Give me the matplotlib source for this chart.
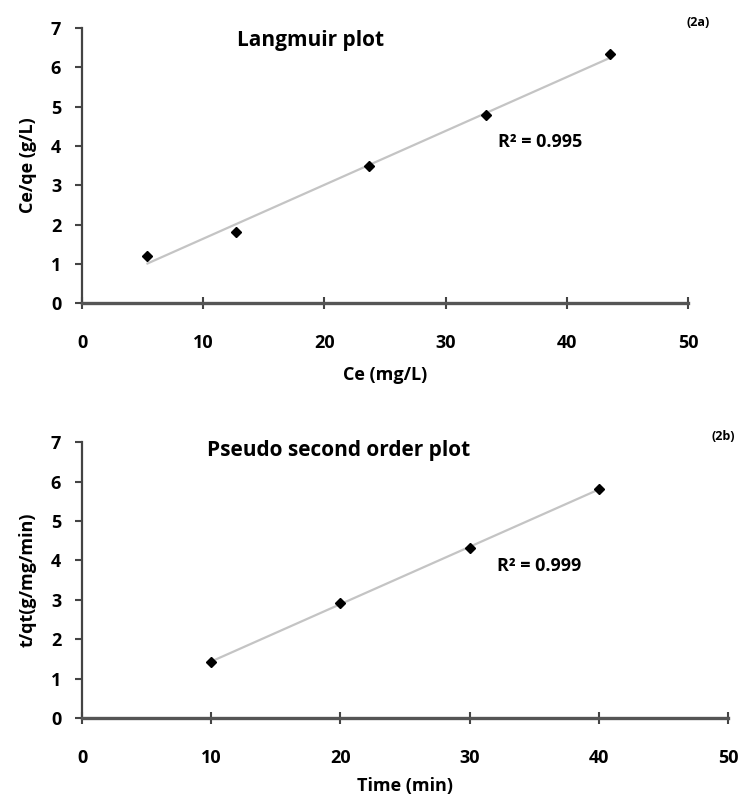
import numpy as np
import matplotlib
matplotlib.use("Agg")
import matplotlib.pyplot as plt

plt.rcParams['font.family'] = ['Open Sans', 'DejaVu Sans']
plt.rcParams['font.weight'] = 'bold'

# Langmuir data (2a)
ce = [5.4, 12.7, 23.7, 33.3, 43.6]
ce_qe = [1.19, 1.82, 3.49, 4.79, 6.33]

# pseudo second order data (2b)
time_min = [10, 20, 30, 40]
t_qt = [1.42, 2.93, 4.31, 5.81]

xticks = [0, 10, 20, 30, 40, 50]
yticks = [0, 1, 2, 3, 4, 5, 6, 7]

fig = plt.figure(figsize=(7.43, 8.02), dpi=100)
ax1 = fig.add_axes([0.1104, 0.622, 0.8156, 0.343])
ax2 = fig.add_axes([0.1104, 0.1047, 0.8695, 0.344])


def style(ax, xs, ys, xlabel, ylabel, title, titlepos, tag, tagx, r2, r2pos, xly):
    # trendline from linear fit
    k, b = np.polyfit(xs, ys, 1)
    xx = np.array([min(xs), max(xs)])
    ax.plot(xx, k * xx + b, color='#c4c4c4', lw=1.6, zorder=1)
    ax.plot(xs, ys, 'D', color='black', ms=5, zorder=2)
    ax.set_xlim(0, 50)
    ax.set_ylim(0, 7)
    ax.set_xticks(xticks)
    ax.set_yticks(yticks)
    for s in ['top', 'right']:
        ax.spines[s].set_visible(False)
    ax.spines['left'].set_color('#444444')
    ax.spines['left'].set_linewidth(1.6)
    ax.spines['bottom'].set_color('#555555')
    ax.spines['bottom'].set_linewidth(2.4)
    ax.tick_params(axis='y', direction='out', length=5, width=1.5,
                   color='#444444', labelsize=13, pad=10)
    ax.tick_params(axis='x', direction='inout', length=8, width=1.5,
                   color='#444444', labelsize=13, pad=18)
    ax.set_xlabel(xlabel, fontsize=13, fontweight='bold', va='center')
    ax.xaxis.set_label_coords(0.5, xly)
    ax.set_ylabel(ylabel, fontsize=13, fontweight='bold', labelpad=10)
    ax.text(titlepos[0], titlepos[1], title, transform=ax.transAxes,
            fontsize=15, fontweight='bold', ha='left', va='center')
    ax.text(r2pos[0], r2pos[1], r2, fontsize=13, fontweight='bold',
            ha='left', va='center')
    ax.text(tagx, 1.02, tag, transform=ax.transAxes, fontsize=9,
            fontweight='bold', ha='left', va='center')


style(ax1, ce, ce_qe, 'Ce (mg/L)', 'Ce/qe (g/L)', 'Langmuir plot', (0.256, 0.956),
      '(2a)', 0.997, 'R² = 0.995', (34.3, 4.1), -0.262)
style(ax2, time_min, t_qt, 'Time (min)', 't/qt(g/mg/min)',
      'Pseudo second order plot', (0.193, 0.971),
      '(2b)', 0.975, 'R² = 0.999', (32.1, 3.85), -0.246)

fig.savefig('out.png', dpi=100)
